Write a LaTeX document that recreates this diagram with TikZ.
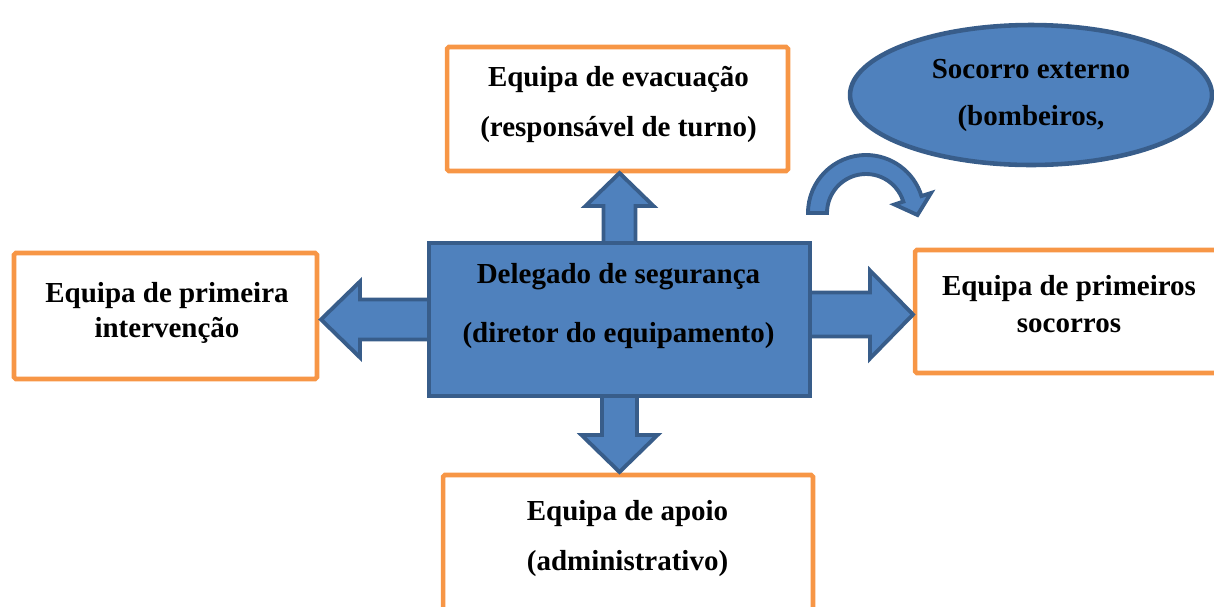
\documentclass[tikz,border=0pt]{standalone}
\usepackage{fontspec}
\setmainfont{Liberation Serif}
\usetikzlibrary{shapes.geometric,calc}
\definecolor{boxorange}{HTML}{F79646}
\definecolor{accblue}{HTML}{4F81BD}
\definecolor{accdark}{HTML}{385D8A}

\begin{document}
\begin{tikzpicture}[x=0.02cm,y=-0.02cm,
    orangebox/.style={draw=boxorange,line width=2.6pt,fill=white,rounded corners=1pt,inner sep=0pt,outer sep=0pt},
    bluebox/.style={draw=accdark,line width=2.6pt,fill=accblue,inner sep=0pt,outer sep=0pt},
    lbl/.style={anchor=base,inner sep=0pt,font=\fontsize{16.5}{20}\selectfont\bfseries},
    blockarr/.style={draw=accdark,line width=2.2pt,fill=accblue,line join=miter}]

    \def\blockarrow#1#2#3#4{
      % length, shaft half width, head half width, head length
      \filldraw[blockarr] (0,-#2) -- ({#1-#4},-#2) -- ({#1-#4},-#3) -- (#1,0)
        -- ({#1-#4},#3) -- ({#1-#4},#2) -- (0,#2) -- cycle;
    }

    \useasboundingbox (0,0) rectangle (1214,606);
    \clip (0,0) rectangle (1214,606);

    % the four teams
    \node[orangebox, minimum width=6.82cm, minimum height=2.48cm] (evac) at (617.5,109) {};
    \node[orangebox, minimum width=6.06cm, minimum height=2.52cm] (prim) at (165.5,316) {};
    \node[orangebox, minimum width=6.16cm, minimum height=2.46cm] (socor) at (1069,311.5) {};
    \node[orangebox, minimum width=7.40cm, minimum height=3.70cm] (apoio) at (628,567.5) {};

    % outside help
    \node[bluebox, ellipse, minimum width=7.24cm, minimum height=2.8cm] (ext) at (1031,95) {};

    % centre
    \coordinate (c) at (619.5,319.5);
    \begin{scope}[shift={($(c)+(0,-76.5)$)}, rotate=90]  \blockarrow{70}{16}{34}{33}     \end{scope}
    \begin{scope}[shift={($(c)+(0,76.5)$)}, rotate=-90]  \blockarrow{76}{17.5}{38}{37}   \end{scope}
    \begin{scope}[shift={($(c)+(-190.5,0)$)}, rotate=180] \blockarrow{108}{20}{38}{39}   \end{scope}
    \begin{scope}[shift={($(c)+(190.5,-5)$)}]             \blockarrow{103}{22}{44}{43}   \end{scope}

    \node[bluebox, minimum width=7.62cm, minimum height=3.06cm] (deleg) at (c) {};

    % curved arrow
    \filldraw[blockarr] (808,213) arc[start angle=180, end angle=343, radius=58]
      -- (931,193) -- (917.5,215) -- (894.5,204.5) -- (903.3,201.6)
      arc[start angle=343, end angle=180, radius=39] -- cycle;

    % texts
    \node[lbl] (evacA) at (618.5,86.7) {Equipa de evacuação};
    \node[lbl] (evacB) at (618.5,136.7) {(responsável de turno)};
    \node[lbl] (primA) at (167,302) {Equipa de primeira};
    \node[lbl] (primB) at (167,337) {intervenção};
    \node[lbl] (socorA) at (1069,295) {Equipa de primeiros};
    \node[lbl] (socorB) at (1069,332) {socorros};
    \node[lbl] (apoioA) at (627.5,520) {Equipa de apoio};
    \node[lbl] (apoioB) at (627.5,570) {(administrativo)};
    \node[lbl] (delegA) at (618.5,283) {Delegado de segurança};
    \node[lbl] (delegB) at (618.5,342) {(diretor do equipamento)};
    \node[lbl] (extA) at (1031,78) {Socorro externo};
    \node[lbl] (extB) at (1031,125) {(bombeiros,};

\end{tikzpicture}
\end{document}
